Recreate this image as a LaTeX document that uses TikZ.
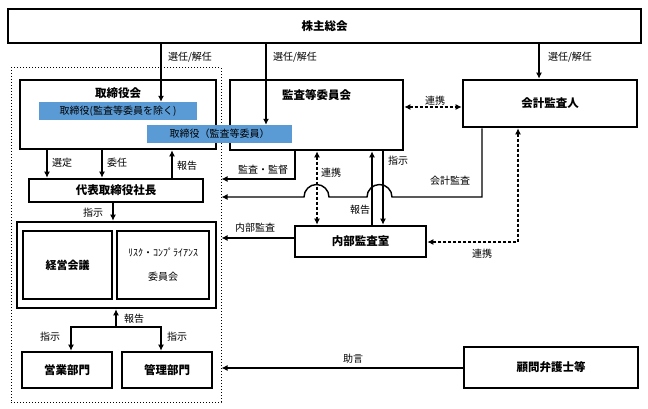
\documentclass[tikz,border=0pt]{standalone}
\usepackage{fontspec}
\setmainfont{Noto Sans CJK JP}
\usetikzlibrary{arrows.meta}
\definecolor{barblue}{RGB}{91,155,213}

\begin{document}
\begin{tikzpicture}[x=1pt,y=-1pt,
	box/.style={draw,rectangle,line width=2.6pt,inner sep=0pt,font=\fontsize{11.5}{13}\selectfont\bfseries},
	thinbox/.style={draw,rectangle,line width=1.3pt,inner sep=0pt},
	bar/.style={fill=barblue,rectangle,inner sep=0pt,font=\fontsize{10}{11}\selectfont},
	arr/.style={-{Latex[length=6pt,width=6pt]},line width=1.4pt},
	dbl/.style={{Latex[length=6pt,width=6pt]}-{Latex[length=6pt,width=6pt]},line width=1.4pt,dash pattern=on 3pt off 2pt},
	lbl/.style={font=\fontsize{10}{11}\selectfont,inner sep=1pt}]
			\useasboundingbox (0,0) rectangle (648,409);
			%\draw[help lines,step=50] (0,0) grid (648,409);
			
			\node[draw,rectangle,dotted,line width=1pt,minimum width=210pt,minimum height=334pt] (exec) at (116,235) {};
			
			\node[box,minimum width=633pt,minimum height=34pt] (holders) at (324.5,26) {株主総会};
			\node[box,minimum width=196pt,minimum height=69pt,label={[anchor=north,yshift=-5pt,font=\fontsize{11.5}{13}\selectfont\bfseries]north:取締役会}] (board) at (118,114.5) {};
			\node[box,minimum width=173pt,minimum height=70pt,label={[anchor=north,yshift=-7pt,font=\fontsize{11.5}{13}\selectfont\bfseries]north:監査等委員会}] (acb) at (316.5,115) {};
			\node[box,minimum width=174pt,minimum height=47pt] (auditor) at (550,103.5) {会計監査人};
			\node[bar,minimum width=158pt,minimum height=18pt] (bar1) at (118,111) {取締役(監査等委員を除く)};
			\node[bar,minimum width=145pt,minimum height=18pt] (bar2) at (219.5,134) {取締役（監査等委員）};
			\node[box,minimum width=174pt,minimum height=23pt] (ceo) at (116,190.5) {代表取締役社長};
			\node[box,minimum width=131pt,minimum height=31pt] (internal) at (360.5,241.5) {内部監査室};
			\node[box,minimum width=199pt,minimum height=86pt] (mgmt) at (116.5,265) {};
			\node[thinbox,minimum width=89pt,minimum height=68pt,font=\fontsize{11}{13}\selectfont\bfseries] (meeting) at (67.5,265) {経営会議};
			\node[thinbox,minimum width=92pt,minimum height=68pt,align=center,font=\fontsize{10}{24}\selectfont] (risk) at (163,265) {ﾘｽｸ・ｺﾝﾌﾟﾗｲｱﾝｽ\\委員会};
			\node[box,minimum width=90pt,minimum height=36pt] (sales) at (67,370) {営業部門};
			\node[box,minimum width=90pt,minimum height=36pt] (admin) at (167,370) {管理部門};
			\node[box,minimum width=174pt,minimum height=41pt] (lawyer) at (551,367.5) {顧問弁護士等};
			
			% from the general meeting
			\draw[arr] (holders.south -| 161,0) -- (bar1.north -| 161,0);
			\draw[arr] (holders.south -| 266,0) -- (bar2.north -| 266,0);
			\draw[arr] (holders.south -| 539,0) -- (auditor.north -| 539,0);
			\node[lbl] (sel1) at (190,57) {選任/解任};
			\node[lbl] (sel2) at (295,57) {選任/解任};
			\node[lbl] (sel3) at (570,57) {選任/解任};
			
			\draw[dbl] (acb.east |- 0,107) -- (auditor.west |- 0,107);
			\node[lbl] (coop1) at (435,101) {連携};
			
			% board and president
			\draw[arr] (board.south -| 47,0) -- (ceo.north -| 47,0);
			\draw[arr] (board.south -| 102,0) -- (ceo.north -| 102,0);
			\draw[arr] (ceo.north -| 172,0) -- (board.south -| 172,0);
			\node[lbl] (pick) at (62,163) {選定};
			\node[lbl] (entrust) at (117,163) {委任};
			\node[lbl] (rep1) at (187,166) {報告};
			
			% audit lines into the executive side
			\draw[arr] (acb.south -| 295,0) |- (exec.east |- 0,179);
			\node[lbl] (supervise) at (263,170) {監査・監督};
			\draw[arr] (auditor.south -| 482,0) |- (392,197) arc[start angle=0,end angle=180,radius=12.5pt] -- (329,197) arc[start angle=0,end angle=180,radius=12.5pt] -- (exec.east |- 0,197);
			\node[lbl] (acct) at (450,181) {会計監査};
			
			\draw[dbl] (acb.south -| 317,0) -- (internal.north -| 317,0);
			\draw[arr] (internal.north -| 372,0) -- (acb.south -| 372,0);
			\draw[arr] (acb.south -| 383,0) -- (internal.north -| 383,0);
			\node[lbl] (coop2) at (331,173) {連携};
			\node[lbl] (rep2) at (360,210) {報告};
			\node[lbl] (order1) at (398,161) {指示};
			
			\draw[arr] (internal.west |- 0,238) -- (exec.east |- 0,238);
			\node[lbl] (inaudit) at (255,228) {内部監査};
			\draw[dbl] (auditor.south -| 518,0) |- (internal.east |- 0,242);
			\node[lbl] (coop3) at (482,254) {連携};
			
			% management side
			\draw[arr] (ceo.south -| 113,0) -- (mgmt.north -| 113,0);
			\node[lbl] (order2) at (93,213) {指示};
			\coordinate (fork) at (116,327);
			\draw[arr] (fork) -- (mgmt.south -| fork);
			\draw[arr] (fork) -| (sales.north -| 71,0);
			\draw[arr] (fork) -| (admin.north -| 161,0);
			\node[lbl] (rep3) at (134,319) {報告};
			\node[lbl] (order3) at (50,337) {指示};
			\node[lbl] (order4) at (177,337) {指示};
			
			\draw[arr] (lawyer.west |- 0,368) -- (exec.east |- 0,368);
			\node[lbl] (advice) at (353,359) {助言};
		\end{tikzpicture}
\end{document}
